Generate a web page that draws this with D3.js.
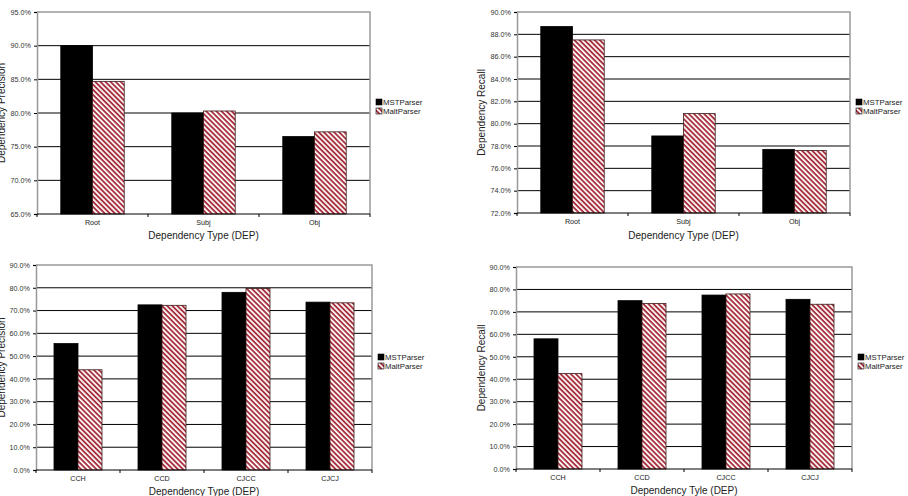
<!DOCTYPE html>
<meta charset="utf-8">
<script src="https://d3js.org/d3.v7.js"></script>
<style>
  body { margin: 0; background: #fff; }
  text { font-family: "Liberation Sans", Arial, sans-serif; }
</style>
<div id="my_dataviz"></div>
<script>

// series names
var seriesNames = ["MSTParser", "MaltParser"];

// top row categories and values
var topCats = ["Root", "Subj", "Obj"];
var precTopMST  = [90.0, 80.0, 76.5];
var precTopMalt = [84.7, 80.3, 77.2];
var recTopMST   = [88.7, 78.9, 77.7];
var recTopMalt  = [87.5, 80.9, 77.6];

// bottom row categories and values
var botCats = ["CCH", "CCD", "CJCC", "CJCJ"];
var precBotMST  = [55.5, 72.5, 78.0, 73.7];
var precBotMalt = [44.0, 72.3, 79.7, 73.4];
var recBotMST   = [58.0, 75.0, 77.5, 75.6];
var recBotMalt  = [42.5, 73.7, 78.0, 73.4];

// tick values
var ticksPrecTop = [65, 70, 75, 80, 85, 90, 95];
var ticksRecTop  = [72, 74, 76, 78, 80, 82, 84, 86, 88, 90];
var ticksBottom  = [0, 10, 20, 30, 40, 50, 60, 70, 80, 90];

var svg = d3.select("#my_dataviz")
  .append("svg")
    .attr("width", 908)
    .attr("height", 496);

// hatch pattern for MaltParser (stripes running down to the right)
var defs = svg.append("defs");
var pat = defs.append("pattern")
    .attr("id", "hatch")
    .attr("patternUnits", "userSpaceOnUse")
    .attr("width", 3.6)
    .attr("height", 3.6)
    .attr("patternTransform", "rotate(45)");
pat.append("rect").attr("width", 3.6).attr("height", 3.6).attr("fill", "#fff");
pat.append("rect").attr("width", 3.6).attr("height", 1.9).attr("fill", "#a8323f");

var fills = ["#000", "url(#hatch)"];

function drawPanel(p) {
  var g = svg.append("g")
    .attr("transform", "translate(" + p.left + "," + p.top + ")");
  var w = p.width, h = p.height;

  var x = d3.scaleBand()
    .domain(p.cats)
    .range([0, w]);
  var y = d3.scaleLinear()
    .domain([p.ticks[0], p.ticks[p.ticks.length - 1]])
    .range([h, 0]);

  // gridlines
  g.append("g")
    .selectAll("line")
    .data(p.ticks.slice(1, -1))
    .enter()
    .append("line")
      .attr("x1", 0).attr("x2", w)
      .attr("y1", d => y(d)).attr("y2", d => y(d))
      .attr("stroke", "#000")
      .attr("stroke-width", 1);

  // plot border (top, right)
  g.append("path")
    .attr("d", "M0,0H" + w + "V" + h)
    .attr("fill", "none")
    .attr("stroke", "#999")
    .attr("stroke-width", 1.5);

  // bars
  var bw = x.bandwidth() / 3.5;
  var rows = p.cats.map((c, i) => ({cat: c, v: [p.mst[i], p.malt[i]]}));
  rows.forEach(function(r) {
    r.v.forEach(function(v, k) {
      g.append("rect")
        .attr("x", x(r.cat) + x.bandwidth() / 2 - bw + k * bw)
        .attr("y", y(v))
        .attr("width", bw)
        .attr("height", h - y(v))
        .attr("fill", fills[k])
        .attr("stroke", k == 0 ? "#000" : "#3a1a1a")
        .attr("stroke-width", 0.8);
    });
  });

  // y axis
  var yAxis = g.append("g")
    .call(d3.axisLeft(y).tickValues(p.ticks).tickSize(3).tickFormat(d => d.toFixed(1) + "%"));
  yAxis.select(".domain").attr("stroke", "#999").attr("stroke-width", 1.5);
  yAxis.selectAll("text").attr("font-size", 7.2).attr("fill", "#333");

  // x axis
  var xAxis = g.append("g")
    .attr("transform", "translate(0," + h + ")");
  xAxis.append("line")
    .attr("x1", 0).attr("x2", w)
    .attr("stroke", "#000").attr("stroke-width", 1.2);
  xAxis.selectAll(".tk")
    .data(p.cats.concat(["end"]))
    .enter()
    .append("line")
      .attr("x1", (d, i) => i * x.step()).attr("x2", (d, i) => i * x.step())
      .attr("y1", 0).attr("y2", 3)
      .attr("stroke", "#000");
  xAxis.selectAll(".lbl")
    .data(p.cats)
    .enter()
    .append("text")
      .attr("x", d => x(d) + x.bandwidth() / 2)
      .attr("y", 11)
      .attr("text-anchor", "middle")
      .attr("font-size", 7.2)
      .attr("fill", "#222")
      .text(d => d);

  // axis titles
  g.append("text")
    .attr("x", w / 2)
    .attr("y", h + p.xTitleDy)
    .attr("text-anchor", "middle")
    .attr("font-size", 10)
    .attr("fill", "#222")
    .text(p.xTitle);
  g.append("text")
    .attr("transform", "translate(" + p.yTitleX + "," + (h / 2) + ") rotate(-90)")
    .attr("text-anchor", "middle")
    .attr("font-size", 10)
    .attr("fill", "#222")
    .text(p.yTitle);

  // legend
  var lg = g.append("g")
    .attr("transform", "translate(" + (w + 6) + "," + p.legendY + ")");
  seriesNames.forEach(function(s, k) {
    lg.append("rect")
      .attr("x", 0).attr("y", k * 9 - 5)
      .attr("width", 6).attr("height", 6)
      .attr("fill", fills[k])
      .attr("stroke", "#000").attr("stroke-width", 0.6);
    lg.append("text")
      .attr("x", 7).attr("y", k * 9 + 1)
      .attr("font-size", 7.8)
      .attr("fill", "#222")
      .text(s);
  });
}

drawPanel({left: 37, top: 12, width: 333, height: 202, cats: topCats,
  mst: precTopMST, malt: precTopMalt, ticks: ticksPrecTop,
  xTitle: "Dependency Type (DEP)", yTitle: "Dependency Precision",
  xTitleDy: 25, yTitleX: -32, legendY: 108 - 12 - 4});

drawPanel({left: 517, top: 12, width: 333, height: 201, cats: topCats,
  mst: recTopMST, malt: recTopMalt, ticks: ticksRecTop,
  xTitle: "Dependency Type (DEP)", yTitle: "Dependency Recall",
  xTitleDy: 26, yTitleX: -32, legendY: 108 - 12 - 4});

drawPanel({left: 36, top: 265, width: 336, height: 205, cats: botCats,
  mst: precBotMST, malt: precBotMalt, ticks: ticksBottom,
  xTitle: "Dependency Type (DEP)", yTitle: "Dependency Precision",
  xTitleDy: 25, yTitleX: -31, legendY: 363 - 265 - 4});

drawPanel({left: 516, top: 267, width: 336, height: 202, cats: botCats,
  mst: recBotMST, malt: recBotMalt, ticks: ticksBottom,
  xTitle: "Dependency Tyle (DEP)", yTitle: "Dependency Recall",
  xTitleDy: 25, yTitleX: -31, legendY: 363 - 267 - 4});

</script>
